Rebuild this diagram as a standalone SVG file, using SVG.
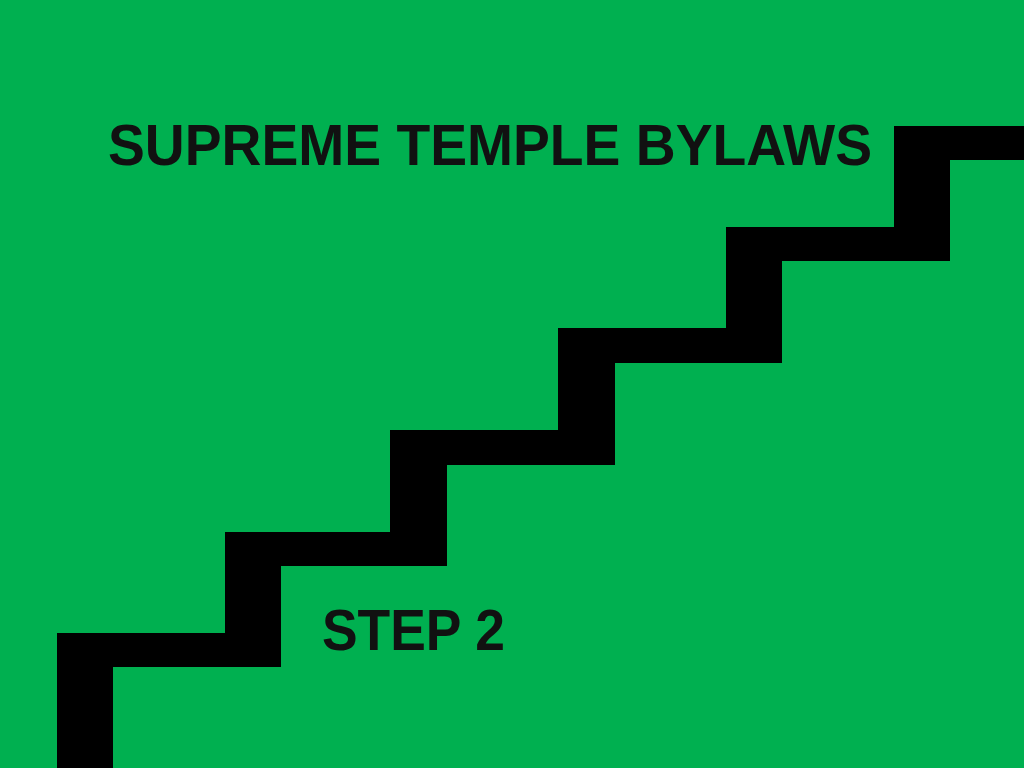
<svg xmlns="http://www.w3.org/2000/svg" width="1024" height="768" viewBox="0 0 1024 768">
<style>.t{font-family:"Liberation Sans",Arial,sans-serif;font-weight:bold;font-size:58px;fill:#111}</style>
<rect width="1024" height="768" fill="#00B050"/>
<polygon fill="#000" points="57,768 57,633 225,633 225,532 390,532 390,430 558,430 558,328 726,328 726,227 894,227 894,126 1024,126 1024,160 950,160 950,261 782,261 782,363 615,363 615,465 447,465 447,566 281,566 281,667 113,667 113,768"/>
<text class="t" x="108" y="165" textLength="764" lengthAdjust="spacingAndGlyphs">SUPREME TEMPLE BYLAWS</text>
<text class="t" x="322" y="650" textLength="183" lengthAdjust="spacingAndGlyphs">STEP 2</text>
</svg>
